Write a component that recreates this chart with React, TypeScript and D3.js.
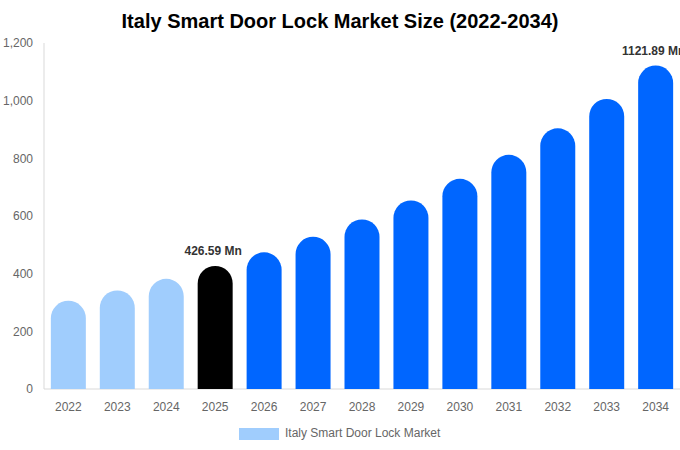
import React from 'react';
import * as d3 from 'd3';

const years = ['2022', '2023', '2024', '2025', '2026', '2027', '2028', '2029', '2030', '2031', '2032', '2033', '2034'];
const values = [306, 342, 382, 426.59, 474, 528, 588, 654, 729, 812, 904, 1006, 1121.89];
const yTicks = [0, 200, 400, 600, 800, 1000, 1200];
const labelled: Record<string, string> = { '2025': '426.59 Mn', '2034': '1121.89 Mn' };

const W = 680;
const H = 450;
const M = { top: 43, right: 0, bottom: 61, left: 44 };
const FONT = '"Liberation Sans", Arial, sans-serif';

const LIGHT = '#a0cdfd';
const BLUE = '#0066ff';

function colorFor(year: string) {
  const y = +year;
  if (y < 2025) return LIGHT;
  if (y === 2025) return '#000000';
  return BLUE;
}

// bar path with a fully rounded top cap, square bottom
function capBar(x: number, y: number, w: number, h: number) {
  const r = Math.min(w / 2, h);
  return `M${x},${y + h}V${y + r}A${r},${r} 0 0 1 ${x + 2 * r},${y + r}V${y + h}Z`;
}

export default function App() {
  const x = d3.scaleBand<string>().domain(years).range([M.left, W - M.right]).paddingInner(0.285).paddingOuter(0.14);
  const y = d3.scaleLinear().domain([0, 1200]).range([H - M.bottom, M.top]);
  const fmt = d3.format(',');
  const base = y(0);

  return (
    <svg width={W} height={H} style={{ position: 'absolute', top: 0, left: 0, fontFamily: FONT }}>
      <rect width={W} height={H} fill="#fff" />
      <text x={W / 2} y={28} textAnchor="middle" fontSize={20} fontWeight="bold" fill="#000">
        Italy Smart Door Lock Market Size (2022-2034)
      </text>

      {/* axes */}
      <line x1={M.left} x2={M.left} y1={M.top} y2={base} stroke="#d9d9d9" />
      <line x1={M.left} x2={W} y1={base} y2={base} stroke="#d9d9d9" />
      {yTicks.map(t => (
        <text key={t} x={33} y={y(t)} dy="0.35em" textAnchor="end" fontSize={12} fill="#666">
          {fmt(t)}
        </text>
      ))}
      {years.map(yr => (
        <text key={yr} x={(x(yr) ?? 0) + x.bandwidth() / 2} y={411} textAnchor="middle" fontSize={12} fill="#666">
          {yr}
        </text>
      ))}

      {/* bars */}
      {years.map((yr, i) => {
        const bx = x(yr) ?? 0;
        const top = y(values[i]);
        return <path key={yr} d={capBar(bx, top, x.bandwidth(), base - top)} fill={colorFor(yr)} />;
      })}

      {/* value labels (the last one runs past the right edge, as in the source) */}
      {years.map((yr, i) =>
        labelled[yr] ? (
          <text
            key={yr}
            x={(x(yr) ?? 0) + x.bandwidth() / 2 - 2}
            y={y(values[i]) - 11}
            textAnchor="middle"
            fontSize={12}
            fontWeight="bold"
            fill="#333"
          >
            {labelled[yr]}
          </text>
        ) : null,
      )}

      {/* legend */}
      <rect x={239} y={428} width={40} height={12} fill={LIGHT} />
      <text x={285} y={437} fontSize={12} fill="#666">
        Italy Smart Door Lock Market
      </text>
    </svg>
  );
}
